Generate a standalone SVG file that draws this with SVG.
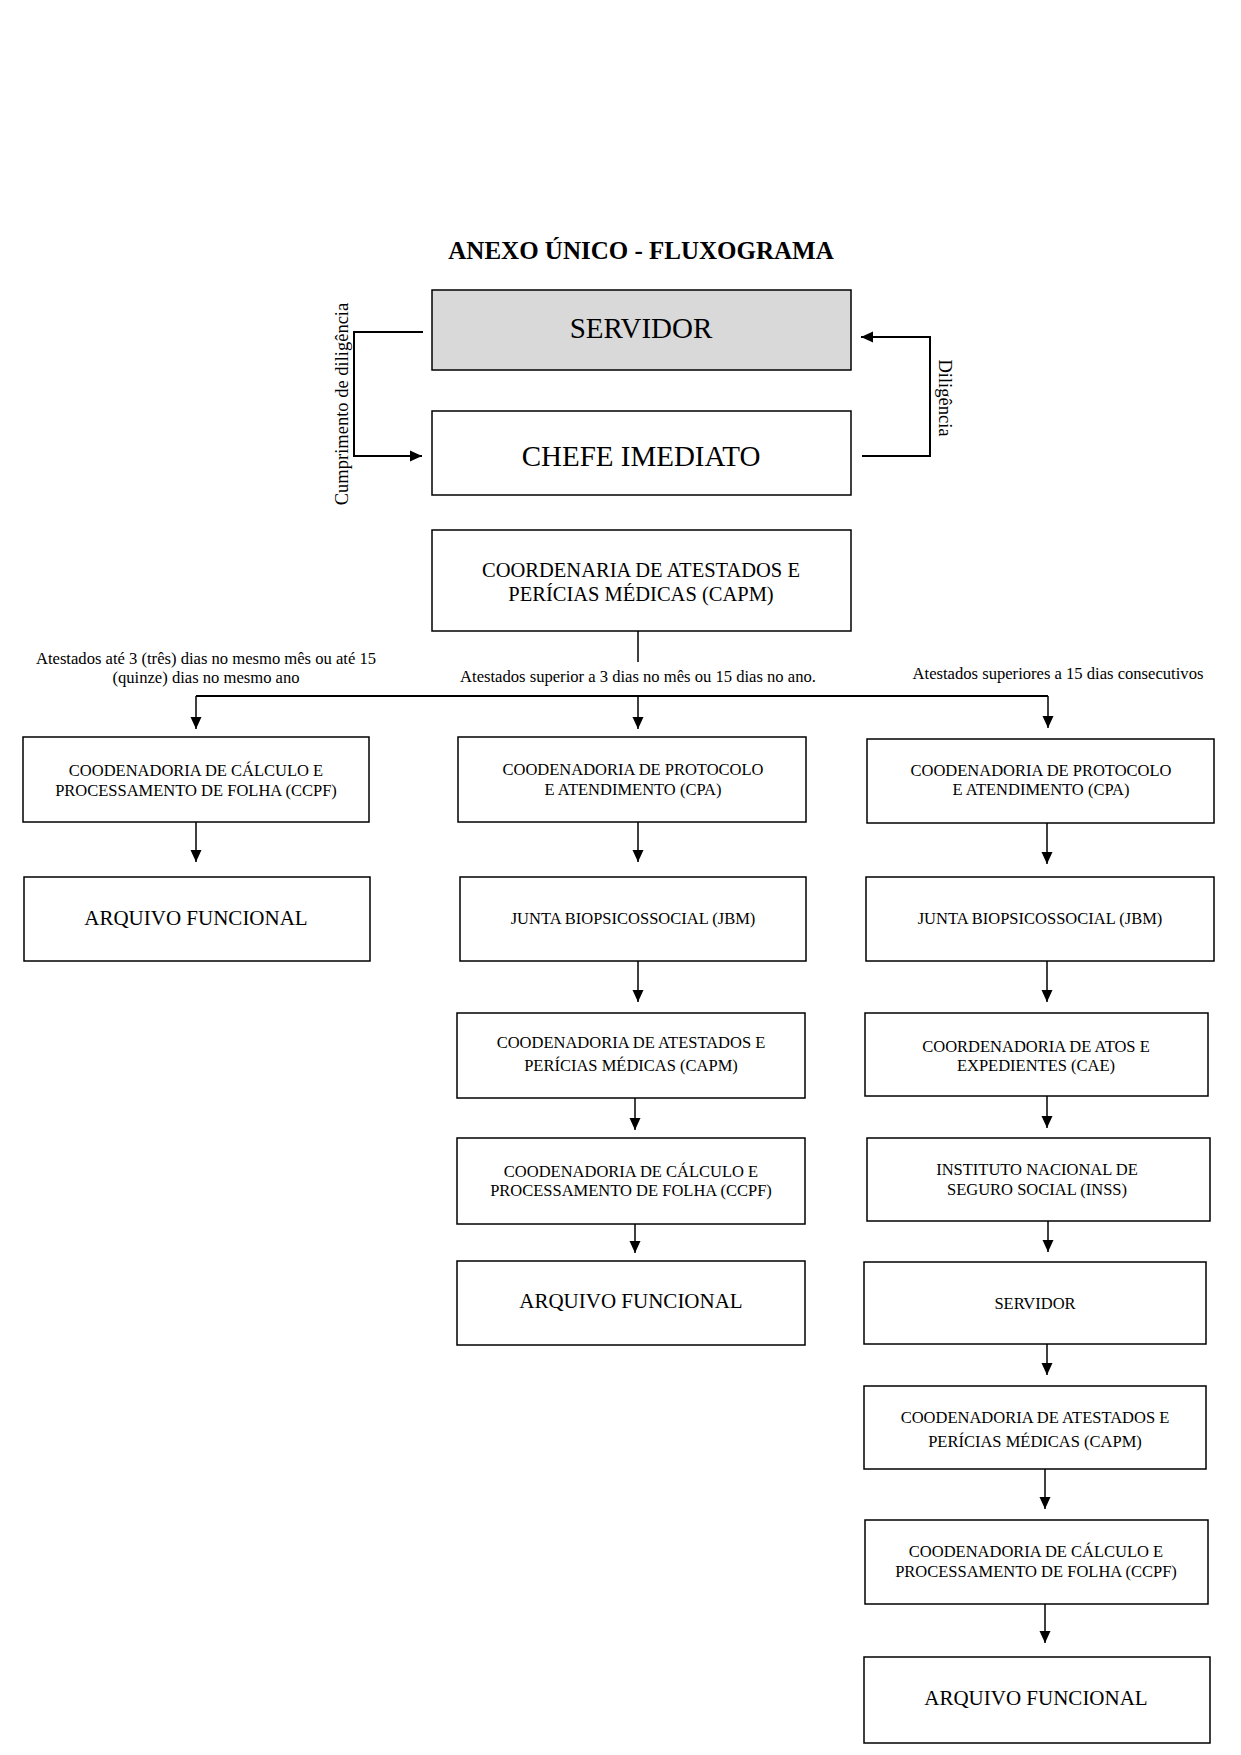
<svg xmlns="http://www.w3.org/2000/svg" width="1241" height="1755" viewBox="0 0 1241 1755">
<style>
  .box { fill: #ffffff; stroke: #000000; stroke-width: 1.5; }
  .grey { fill: #d9d9d9; }
  .t { font-family: "Liberation Serif", "Times New Roman", serif; fill: #000000; text-anchor: middle; }
  .s { font-size: 16.5px; }
  .m { font-size: 20.5px; }
  .l { font-size: 29px; }
  .lab { font-size: 16.6px; }
  .conn { fill: none; stroke: #000000; stroke-width: 1.5; }
  .thick { stroke-width: 2; }
</style>
<defs>
  <marker id="ah" markerUnits="userSpaceOnUse" markerWidth="12" markerHeight="12" viewBox="0 0 12 12" refX="12" refY="6" orient="auto">
    <path d="M0,0.5 L12,6 L0,11.5 Z" fill="#000000"/>
  </marker>
</defs>
<rect width="1241" height="1755" fill="#ffffff"/>

<text class="t" x="641" y="259" font-size="25" font-weight="bold">ANEXO ÚNICO - FLUXOGRAMA</text>

<g id="connectors">
  <polyline class="conn thick" points="423,332 354,332 354,456 422,456" marker-end="url(#ah)"/>
  <polyline class="conn thick" points="862,456 930,456 930,337 861,337" marker-end="url(#ah)"/>
  <line class="conn" x1="638" y1="631" x2="638" y2="662"/>
  <line class="conn thick" x1="196" y1="696" x2="1048" y2="696"/>
  <line class="conn" x1="196" y1="696" x2="196" y2="729" marker-end="url(#ah)"/>
  <line class="conn" x1="638" y1="696" x2="638" y2="729" marker-end="url(#ah)"/>
  <line class="conn" x1="1048" y1="696" x2="1048" y2="728" marker-end="url(#ah)"/>
  <line class="conn" x1="196" y1="822" x2="196" y2="862" marker-end="url(#ah)"/>
  <line class="conn" x1="638" y1="822" x2="638" y2="862" marker-end="url(#ah)"/>
  <line class="conn" x1="1047" y1="823" x2="1047" y2="864" marker-end="url(#ah)"/>
  <line class="conn" x1="638" y1="961" x2="638" y2="1002" marker-end="url(#ah)"/>
  <line class="conn" x1="1047" y1="961" x2="1047" y2="1002" marker-end="url(#ah)"/>
  <line class="conn" x1="635" y1="1098" x2="635" y2="1130" marker-end="url(#ah)"/>
  <line class="conn" x1="1047" y1="1096" x2="1047" y2="1128" marker-end="url(#ah)"/>
  <line class="conn" x1="635" y1="1224" x2="635" y2="1253" marker-end="url(#ah)"/>
  <line class="conn" x1="1048" y1="1221" x2="1048" y2="1252" marker-end="url(#ah)"/>
  <line class="conn" x1="1047" y1="1344" x2="1047" y2="1375" marker-end="url(#ah)"/>
  <line class="conn" x1="1045" y1="1469" x2="1045" y2="1509" marker-end="url(#ah)"/>
  <line class="conn" x1="1045" y1="1604" x2="1045" y2="1643" marker-end="url(#ah)"/>
  <text class="t" x="348" y="404" font-size="18.5" transform="rotate(-90 348 404)">Cumprimento de diligência</text>
  <text class="t" x="939" y="398" font-size="18.5" transform="rotate(90 939 398)">Diligência</text>
  <text class="t lab" x="206" y="664">Atestados até 3 (três) dias no mesmo mês ou até 15</text>
  <text class="t lab" x="206" y="683">(quinze) dias no mesmo ano</text>
  <text class="t lab" x="638" y="682">Atestados superior a 3 dias no mês ou 15 dias no ano.</text>
  <text class="t lab" x="1058" y="679">Atestados superiores a 15 dias consecutivos</text>
</g>

<g id="servidor">
  <rect class="box grey" x="432" y="290" width="419" height="80"/>
  <text class="t l" x="641" y="338">SERVIDOR</text>
</g>
<g id="chefe">
  <rect class="box" x="432" y="411" width="419" height="84"/>
  <text class="t l" x="641" y="466">CHEFE IMEDIATO</text>
</g>
<g id="capm-top">
  <rect class="box" x="432" y="530" width="419" height="101"/>
  <text class="t m" x="641" y="577">COORDENARIA DE ATESTADOS E</text>
  <text class="t m" x="641" y="601">PERÍCIAS MÉDICAS (CAPM)</text>
</g>

<g id="l1">
  <rect class="box" x="23" y="737" width="346" height="85"/>
  <text class="t s" x="196" y="776">COODENADORIA DE CÁLCULO E</text>
  <text class="t s" x="196" y="796">PROCESSAMENTO DE FOLHA (CCPF)</text>
</g>
<g id="l2">
  <rect class="box" x="24" y="877" width="346" height="84"/>
  <text class="t" x="196" y="925" font-size="21">ARQUIVO FUNCIONAL</text>
</g>

<g id="m1">
  <rect class="box" x="458" y="737" width="348" height="85"/>
  <text class="t s" x="633" y="775">COODENADORIA DE PROTOCOLO</text>
  <text class="t s" x="633" y="795">E ATENDIMENTO (CPA)</text>
</g>
<g id="m2">
  <rect class="box" x="460" y="877" width="346" height="84"/>
  <text class="t s" x="633" y="924">JUNTA BIOPSICOSSOCIAL (JBM)</text>
</g>
<g id="m3">
  <rect class="box" x="457" y="1013" width="348" height="85"/>
  <text class="t s" x="631" y="1048">COODENADORIA DE ATESTADOS E</text>
  <text class="t s" x="631" y="1071">PERÍCIAS MÉDICAS (CAPM)</text>
</g>
<g id="m4">
  <rect class="box" x="457" y="1138" width="348" height="86"/>
  <text class="t s" x="631" y="1177">COODENADORIA DE CÁLCULO E</text>
  <text class="t s" x="631" y="1196">PROCESSAMENTO DE FOLHA (CCPF)</text>
</g>
<g id="m5">
  <rect class="box" x="457" y="1261" width="348" height="84"/>
  <text class="t" x="631" y="1308" font-size="21">ARQUIVO FUNCIONAL</text>
</g>

<g id="r1">
  <rect class="box" x="867" y="739" width="347" height="84"/>
  <text class="t s" x="1041" y="776">COODENADORIA DE PROTOCOLO</text>
  <text class="t s" x="1041" y="795">E ATENDIMENTO (CPA)</text>
</g>
<g id="r2">
  <rect class="box" x="866" y="877" width="348" height="84"/>
  <text class="t s" x="1040" y="924">JUNTA BIOPSICOSSOCIAL (JBM)</text>
</g>
<g id="r3">
  <rect class="box" x="865" y="1013" width="343" height="83"/>
  <text class="t s" x="1036" y="1052">COORDENADORIA DE ATOS E</text>
  <text class="t s" x="1036" y="1071">EXPEDIENTES (CAE)</text>
</g>
<g id="r4">
  <rect class="box" x="867" y="1138" width="343" height="83"/>
  <text class="t s" x="1037" y="1175">INSTITUTO NACIONAL DE</text>
  <text class="t s" x="1037" y="1195">SEGURO SOCIAL (INSS)</text>
</g>
<g id="r5">
  <rect class="box" x="864" y="1262" width="342" height="82"/>
  <text class="t s" x="1035" y="1309">SERVIDOR</text>
</g>
<g id="r6">
  <rect class="box" x="864" y="1386" width="342" height="83"/>
  <text class="t s" x="1035" y="1423">COODENADORIA DE ATESTADOS E</text>
  <text class="t s" x="1035" y="1447">PERÍCIAS MÉDICAS (CAPM)</text>
</g>
<g id="r7">
  <rect class="box" x="865" y="1520" width="343" height="84"/>
  <text class="t s" x="1036" y="1557">COODENADORIA DE CÁLCULO E</text>
  <text class="t s" x="1036" y="1577">PROCESSAMENTO DE FOLHA (CCPF)</text>
</g>
<g id="r8">
  <rect class="box" x="864" y="1657" width="346" height="86"/>
  <text class="t" x="1036" y="1705" font-size="21">ARQUIVO FUNCIONAL</text>
</g>
</svg>
